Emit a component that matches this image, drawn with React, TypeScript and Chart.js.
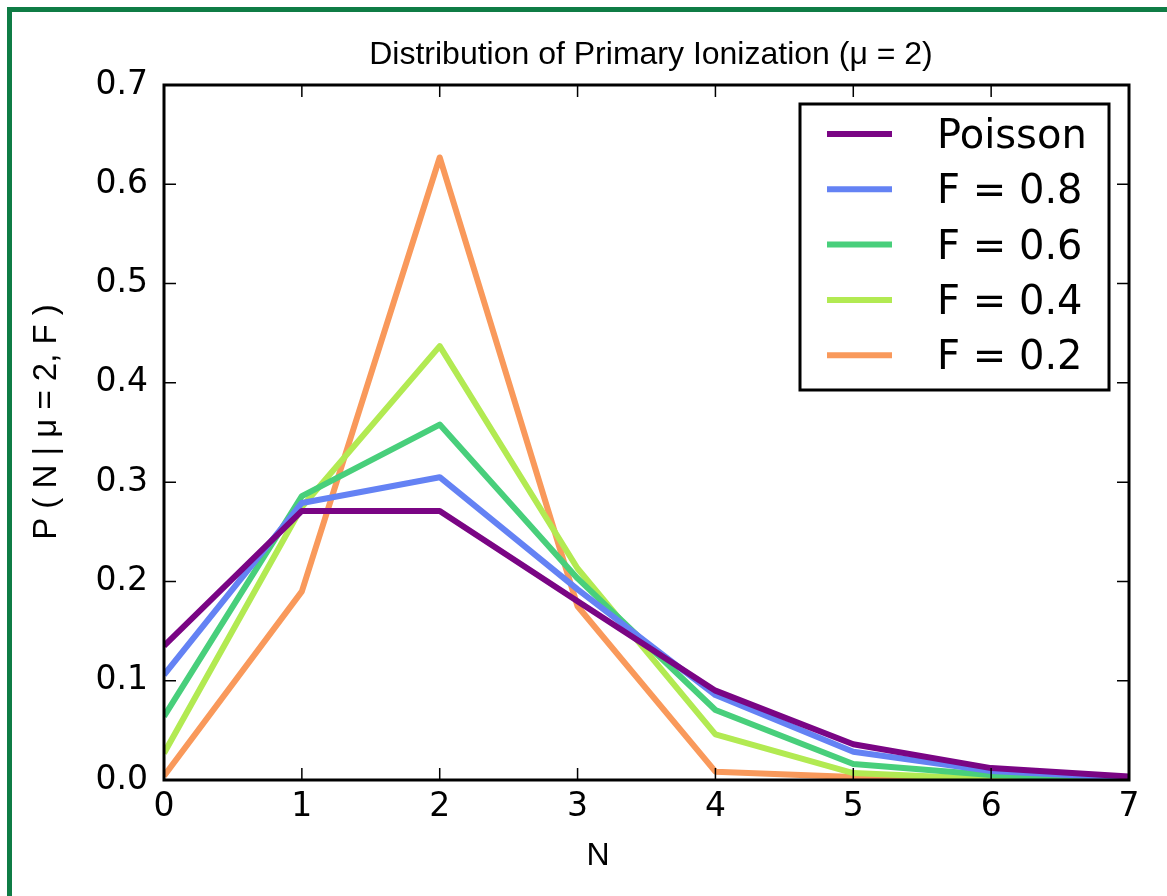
import React, { useEffect, useRef } from "react";
import { Chart, registerables } from "chart.js";

Chart.register(...registerables);

// Number of primary ionizations N
const nValues = [0, 1, 2, 3, 4, 5, 6, 7];

// P(N | mu = 2, F) for the Poisson case and several Fano factors
const poisson = [0.135, 0.271, 0.271, 0.18, 0.09, 0.036, 0.012, 0.0034];
const fano08 = [0.106, 0.279, 0.305, 0.192, 0.0856, 0.0285, 0.009, 0.002];
const fano06 = [0.064, 0.286, 0.358, 0.203, 0.0705, 0.0161, 0.005, 0.001];
const fano04 = [0.027, 0.275, 0.437, 0.213, 0.046, 0.007, 0.001, 0.0];
const fano02 = [0.004, 0.19, 0.627, 0.175, 0.0084, 0.003, 0.0, 0.0];

const seriesLabels = ["Poisson", "F = 0.8", "F = 0.6", "F = 0.4", "F = 0.2"];
const seriesColors = ["#7a0584", "#6482f4", "#48cf7b", "#b2ea52", "#f9995b"];
const seriesValues = [poisson, fano08, fano06, fano04, fano02];

const xTickValues = [0, 1, 2, 3, 4, 5, 6, 7];
const yTickValues = [0.0, 0.1, 0.2, 0.3, 0.4, 0.5, 0.6, 0.7];

const titleText = "Distribution of Primary Ionization (\u03bc = 2)";
const yAxisText = "P ( N | \u03bc = 2, F )";
const xAxisText = "N";

const TICK_FONT = '"DejaVu Sans", sans-serif';
const LABEL_FONT = '"Liberation Sans", Arial, sans-serif';

// Draws the boxed frame with inward ticks on all four sides, the legend box,
// the title and the axis captions.
const decorations = {
  id: "decorations",
  afterDatasetsDraw(chart: any) {
    const { ctx, chartArea, scales } = chart;
    const { left, right, top, bottom } = chartArea;
    const tickLen = 12;
    ctx.save();
    ctx.strokeStyle = "#000";
    ctx.lineWidth = 1.5;
    ctx.beginPath();
    for (const v of xTickValues) {
      const px = scales.x.getPixelForValue(v);
      ctx.moveTo(px, bottom);
      ctx.lineTo(px, bottom - tickLen);
      ctx.moveTo(px, top);
      ctx.lineTo(px, top + tickLen);
    }
    for (const v of yTickValues) {
      const py = scales.y.getPixelForValue(v);
      ctx.moveTo(left, py);
      ctx.lineTo(left + tickLen, py);
      ctx.moveTo(right, py);
      ctx.lineTo(right - tickLen, py);
    }
    ctx.stroke();
    ctx.lineWidth = 3;
    ctx.strokeRect(left, top, right - left, bottom - top);
    ctx.restore();
  },
  afterDraw(chart: any) {
    const { ctx } = chart;
    ctx.save();

    // Legend
    const box = { x: 800, y: 104, w: 309, h: 286 };
    ctx.fillStyle = "#fff";
    ctx.fillRect(box.x, box.y, box.w, box.h);
    ctx.strokeStyle = "#000";
    ctx.lineWidth = 3;
    ctx.strokeRect(box.x, box.y, box.w, box.h);
    chart.data.datasets.forEach((ds: any, i: number) => {
      const rowY = 134 + i * 55.3;
      ctx.strokeStyle = ds.borderColor;
      ctx.lineWidth = 6;
      ctx.lineCap = "butt";
      ctx.beginPath();
      ctx.moveTo(827, rowY);
      ctx.lineTo(892, rowY);
      ctx.stroke();
      ctx.fillStyle = "#000";
      ctx.font = `40px ${TICK_FONT}`;
      ctx.textAlign = "left";
      ctx.textBaseline = "alphabetic";
      ctx.fillText(ds.label, 937, rowY + 14);
    });

    // Title
    ctx.fillStyle = "#000";
    ctx.font = `32px ${LABEL_FONT}`;
    ctx.textAlign = "center";
    ctx.textBaseline = "alphabetic";
    ctx.fillText(titleText, 651, 64);

    // X axis caption
    ctx.font = `32px ${LABEL_FONT}`;
    ctx.textBaseline = "middle";
    ctx.fillText(xAxisText, 598, 856);

    // Y axis caption
    ctx.font = `33px ${LABEL_FONT}`;
    ctx.translate(47, 422);
    ctx.rotate(-Math.PI / 2);
    ctx.fillText(yAxisText, 0, 0);
    ctx.restore();
  },
};

export default function App() {
  const canvasRef = useRef<HTMLCanvasElement | null>(null);

  useEffect(() => {
    const canvas = canvasRef.current;
    if (!canvas) return;
    const chart = new Chart(canvas, {
      type: "line",
      data: {
        datasets: seriesValues.map((vals, i) => ({
          label: seriesLabels[i],
          data: nValues.map((n, j) => ({ x: n, y: vals[j] })),
          borderColor: seriesColors[i],
          backgroundColor: seriesColors[i],
          borderWidth: 6,
          borderJoinStyle: "round" as const,
          pointRadius: 0,
          tension: 0,
          fill: false,
        })),
      },
      options: {
        responsive: false,
        animation: false,
        devicePixelRatio: 1,
        layout: { padding: { left: 0, top: 85, right: 38, bottom: 0 } },
        plugins: {
          legend: { display: false },
          title: { display: false },
          tooltip: { enabled: false },
        },
        scales: {
          x: {
            type: "linear",
            min: 0,
            max: 7,
            afterFit: (s: any) => {
              s.height = 116;
            },
            afterBuildTicks: (s: any) => {
              s.ticks = xTickValues.map((v) => ({ value: v }));
            },
            ticks: {
              color: "#000",
              font: { family: TICK_FONT, size: 33 },
              padding: 8,
              maxRotation: 0,
              autoSkip: false,
              callback: (v: any) => String(v),
            },
            grid: { display: false, drawTicks: false },
            border: { display: false },
          },
          y: {
            type: "linear",
            min: 0,
            max: 0.7,
            afterFit: (s: any) => {
              s.width = 164;
            },
            afterBuildTicks: (s: any) => {
              s.ticks = yTickValues.map((v) => ({ value: v }));
            },
            ticks: {
              color: "#000",
              font: { family: TICK_FONT, size: 33 },
              padding: 16,
              autoSkip: false,
              callback: (v: any) => Number(v).toFixed(1),
            },
            grid: { display: false, drawTicks: false },
            border: { display: false },
          },
        },
      },
      plugins: [decorations],
    });
    return () => chart.destroy();
  }, []);

  return (
    <div
      style={{
        position: "fixed",
        left: 0,
        top: 0,
        width: 1167,
        height: 896,
        background: "#fff",
        overflow: "hidden",
      }}
    >
      <canvas
        ref={canvasRef}
        width={1167}
        height={896}
        style={{ position: "absolute", left: 0, top: 0, width: 1167, height: 896 }}
      />
      <div
        style={{ position: "absolute", left: 7, top: 7, right: 0, height: 5, background: "#0f7c45" }}
      />
      <div
        style={{ position: "absolute", left: 7, top: 7, bottom: 0, width: 5, background: "#0f7c45" }}
      />
    </div>
  );
}
